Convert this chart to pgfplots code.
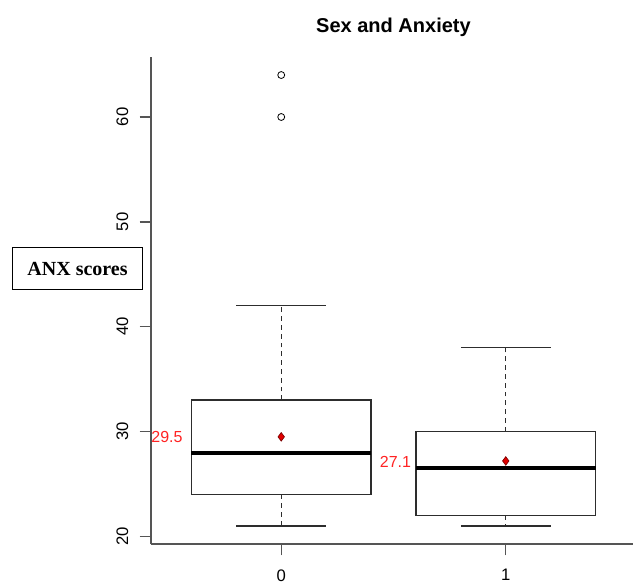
\documentclass[border=0pt]{standalone}
\usepackage{pgfplots}
\pgfplotsset{compat=1.18}
\usepackage{fontspec}
\setmainfont{Liberation Sans}
\newfontfamily\labelserif{Liberation Serif}
\definecolor{axisgray}{RGB}{85,85,85}
\definecolor{boxgray}{RGB}{45,45,45}
\definecolor{meanred}{RGB}{225,0,0}
\definecolor{textred}{RGB}{255,35,35}

\begin{document}
\begin{tikzpicture}
\begin{axis}[
    scale only axis,
    width=363.75pt, height=365.25pt,
    xmin=-0.58, xmax=1.58,
    ymin=19.28, ymax=65.72,
    axis x line*=bottom, axis y line*=left,
    axis line style={axisgray, line width=1pt},
    xtick={0,1}, ytick={20,30,40,50,60},
    tick align=outside, major tick length=8.5pt,
    tick style={axisgray, line width=1pt},
    tick label style={font=\fontsize{12.5}{14}\selectfont},
    yticklabel style={rotate=90, anchor=south},
    yticklabel shift=5pt,
    xticklabel shift=7pt,
    /pgf/number format/assume math mode=true,
    title={\bfseries Sex and Anxiety},
    title style={font=\fontsize{15}{18}\selectfont, at={(0.5,1)}, anchor=base, yshift=12pt},
    clip=false,
    box/.style={boxgray, line width=1.05pt, line join=miter},
    whisk/.style={boxgray, line width=1.05pt, dash pattern=on 3.6pt off 3pt},
    med/.style={black, line width=3pt},
]

% ---- sex = 0 : whiskers 21/42, box 24-33, median 28
\addplot[whisk] coordinates {(0,33) (0,42)};
\addplot[whisk] coordinates {(0,24) (0,21)};
\addplot[box] coordinates {(-0.2,42) (0.2,42)};
\addplot[box] coordinates {(-0.2,21) (0.2,21)};
\addplot[box] coordinates {(-0.4,24) (0.4,24) (0.4,33) (-0.4,33)} -- cycle;
\addplot[med] coordinates {(-0.4,28) (0.4,28)};

% ---- sex = 1 : whiskers 21/38, box 22-30, median 26.5
\addplot[whisk] coordinates {(1,30) (1,38)};
\addplot[whisk] coordinates {(1,22) (1,21)};
\addplot[box] coordinates {(0.8,38) (1.2,38)};
\addplot[box] coordinates {(0.8,21) (1.2,21)};
\addplot[box] coordinates {(0.6,22) (1.4,22) (1.4,30) (0.6,30)} -- cycle;
\addplot[med] coordinates {(0.6,26.5) (1.4,26.5)};

% outliers
\addplot[only marks, mark=o, mark size=2.6pt, black, line width=0.6pt]
    coordinates {(0,60) (0,64)};

% means
\addplot[only marks, mark=diamond*, mark size=3.2pt, fill=meanred, draw=meanred!55!black, line width=0.5pt]
    coordinates {(0,29.5) (1,27.2)};

\node[textred, font=\fontsize{12}{14}\selectfont] at (axis cs:-0.509,29.5) {29.5};
\node[textred, font=\fontsize{12}{14}\selectfont] at (axis cs:0.509,27.1) {27.1};

\node[draw=black, line width=1pt, minimum width=97.5pt, minimum height=31.5pt,
      font=\labelserif\bfseries\fontsize{15}{18}\selectfont]
    at (axis cs:-0.907,45.55) {ANX scores};

\coordinate (sw) at (rel axis cs:0,0);
\end{axis}
\pgfresetboundingbox
\path[use as bounding box] ([xshift=-113.25pt,yshift=-29.25pt]sw) rectangle ++(474.75pt,437.25pt);
\end{tikzpicture}
\end{document}
